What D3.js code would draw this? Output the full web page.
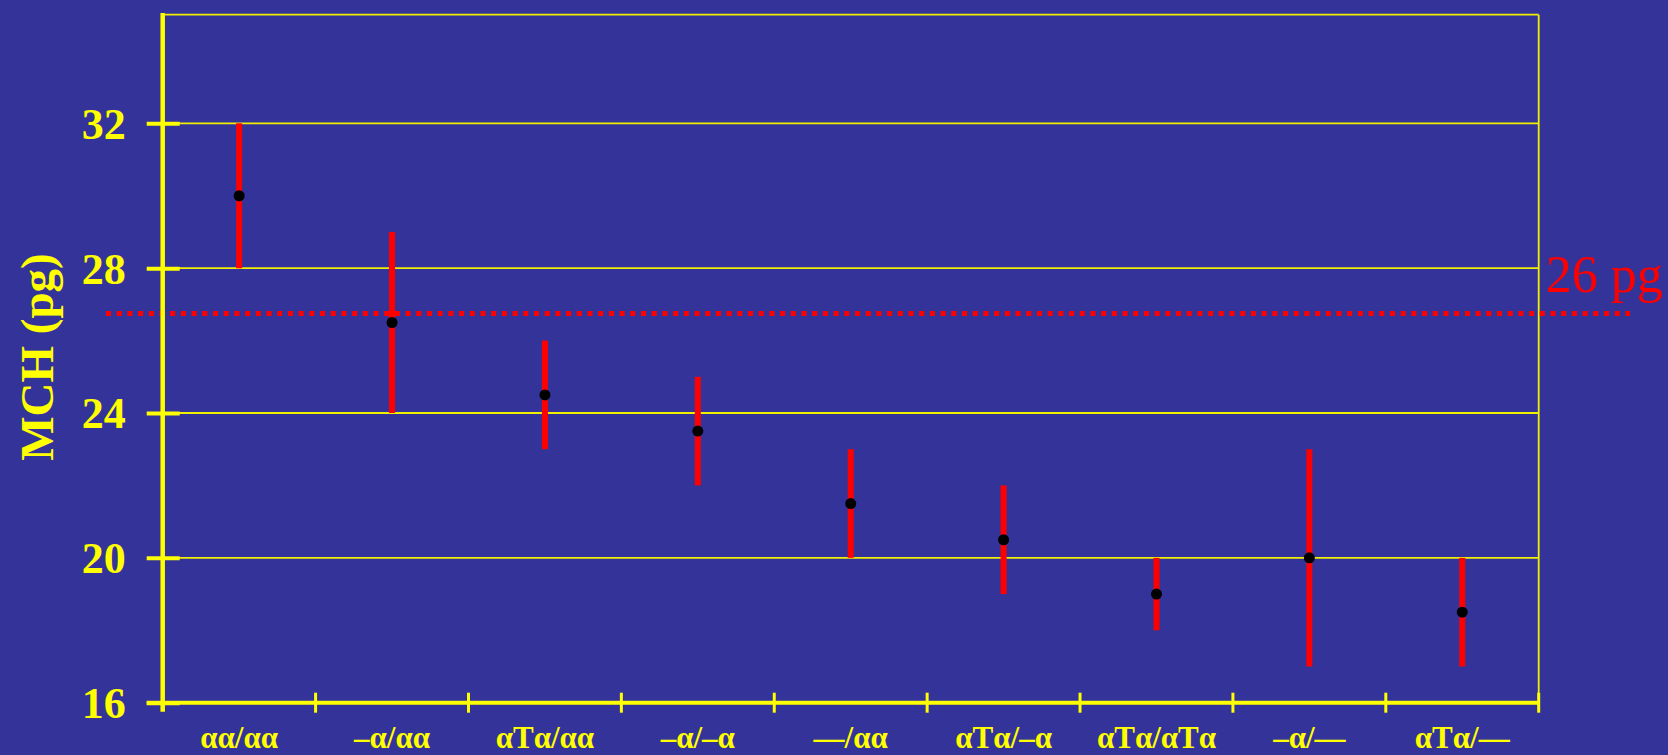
<!DOCTYPE html>
<html>
<head>
<meta charset="utf-8">
<script src="https://cdn.jsdelivr.net/npm/d3@7"></script>
<style>
  body { margin: 0; background: #333399; }
  svg { display: block; }
</style>
</head>
<body>
<div id="chart"></div>
<script>
// genotype groups and MCH values (pg)
const genotypes = ["αα/αα", "–α/αα", "αTα/αα", "–α/–α", "—/αα", "αTα/–α", "αTα/αTα", "–α/—", "αTα/—"];
const mchMean = [30, 26.5, 24.5, 23.5, 21.5, 20.5, 19, 20, 18.5];
const mchLow = [28, 24, 23, 22, 20, 19, 18, 17, 17];
const mchHigh = [32, 29, 26, 25, 23, 22, 20, 23, 20];
const yTicks = [16, 20, 24, 28, 32];
const cutoff = 26.75;
const cutoffLabel = "26 pg";

document.addEventListener("DOMContentLoaded", function () {
    const width = 1668, height = 755;
    const left = 162.7, right = 1538.7, top = 14.7, bottom = 702.7;
    const serif = "'Liberation Serif', 'Times New Roman', serif";

    const svg = d3.select("#chart").append("svg")
        .attr("width", width)
        .attr("height", height);

    svg.append("rect")
        .attr("width", width)
        .attr("height", height)
        .attr("fill", "#333399");

    const x = d3.scaleBand()
        .domain(genotypes)
        .range([left, right])
        .padding(0);

    const y = d3.scaleLinear()
        .domain([16, 35])
        .range([bottom, top]);

    // grid lines
    svg.append("g").selectAll("line")
        .data(yTicks.filter(d => d > 16).concat([35]))
        .enter().append("line")
        .attr("x1", left).attr("x2", right)
        .attr("y1", d => y(d)).attr("y2", d => y(d))
        .attr("stroke", "#f0f000")
        .attr("stroke-width", 1.8);

    // right border
    svg.append("line")
        .attr("x1", right).attr("x2", right)
        .attr("y1", y(35)).attr("y2", bottom + 8)
        .attr("stroke", "#f0f000")
        .attr("stroke-width", 1.8);

    // 26 pg cutoff line
    svg.append("line")
        .attr("x1", 106).attr("x2", 1630)
        .attr("y1", y(cutoff)).attr("y2", y(cutoff))
        .attr("stroke", "#ff0000")
        .attr("stroke-width", 5)
        .attr("stroke-dasharray", "5,5.7");

    svg.append("text")
        .attr("x", right + 7)
        .attr("y", y(cutoff) - 21)
        .attr("fill", "#ff0000")
        .attr("font-family", serif)
        .attr("font-size", 52)
        .text(cutoffLabel);

    // y axis
    const yAxis = svg.append("g")
        .attr("transform", "translate(" + left + ",0)")
        .call(d3.axisLeft(y).tickValues(yTicks).tickSize(16).tickPadding(21));
    yAxis.select(".domain").remove();
    yAxis.selectAll(".tick line")
        .attr("x1", 17).attr("x2", -16)
        .attr("stroke", "#ffff00")
        .attr("stroke-width", 4);
    yAxis.selectAll(".tick text")
        .attr("fill", "#ffff00")
        .attr("font-family", serif)
        .attr("font-weight", "bold")
        .attr("font-size", 44)
        .attr("dy", "0.34em");

    svg.append("line")
        .attr("x1", left).attr("x2", left)
        .attr("y1", 13).attr("y2", bottom + 9)
        .attr("stroke", "#ffff00")
        .attr("stroke-width", 4.5);

    // x axis
    const xAxis = svg.append("g")
        .attr("transform", "translate(0," + bottom + ")")
        .call(d3.axisBottom(x).tickSize(0));
    xAxis.select(".domain").remove();
    xAxis.selectAll(".tick text")
        .attr("y", 45.5)
        .attr("dy", null)
        .attr("fill", "#ffff00")
        .attr("font-family", serif)
        .attr("font-weight", "bold")
        .attr("font-size", 31);

    svg.append("line")
        .attr("x1", left - 16).attr("x2", right)
        .attr("y1", bottom).attr("y2", bottom)
        .attr("stroke", "#ffff00")
        .attr("stroke-width", 4);

    svg.append("g").selectAll("line")
        .data(d3.range(1, genotypes.length + 1).map(i => left + i * x.step()))
        .enter().append("line")
        .attr("x1", d => d).attr("x2", d => d)
        .attr("y1", bottom - 10).attr("y2", bottom + 10)
        .attr("stroke", "#ffff00")
        .attr("stroke-width", 3);

    // error bars
    svg.append("g").selectAll("line")
        .data(genotypes)
        .enter().append("line")
        .attr("x1", d => x(d) + x.bandwidth() / 2)
        .attr("x2", d => x(d) + x.bandwidth() / 2)
        .attr("y1", (d, i) => y(mchLow[i]))
        .attr("y2", (d, i) => y(mchHigh[i]))
        .attr("stroke", "#ff0000")
        .attr("stroke-width", 6);

    svg.append("g").selectAll("circle")
        .data(genotypes)
        .enter().append("circle")
        .attr("cx", d => x(d) + x.bandwidth() / 2)
        .attr("cy", (d, i) => y(mchMean[i]))
        .attr("r", 5.5)
        .attr("fill", "#000000");

    // axis title
    svg.append("text")
        .attr("transform", "translate(53," + 357 + ") rotate(-90)")
        .attr("text-anchor", "middle")
        .attr("fill", "#ffff00")
        .attr("font-family", serif)
        .attr("font-weight", "bold")
        .attr("font-size", 47)
        .text("MCH (pg)");
});
</script>
</body>
</html>
